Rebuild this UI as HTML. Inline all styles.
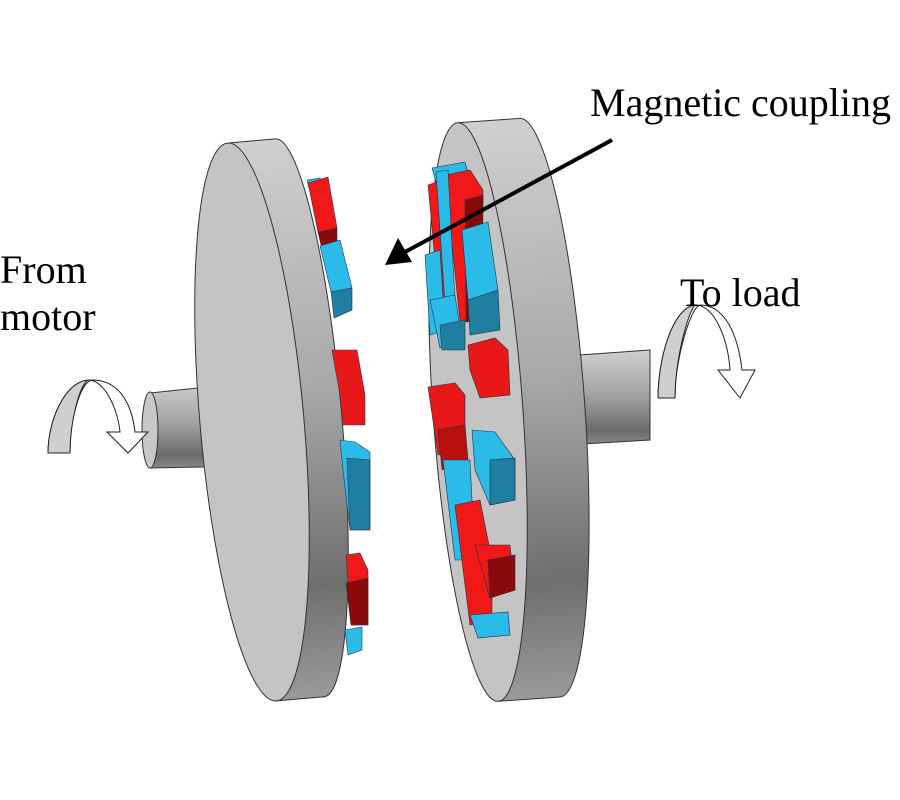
<!DOCTYPE html>
<html><head><meta charset="utf-8"><style>
html,body{margin:0;padding:0;background:#fff;}
svg{display:block;}
text{font-family:"Liberation Serif",serif;fill:#000;}
</style></head><body>
<svg width="900" height="800" viewBox="0 0 900 800" xmlns="http://www.w3.org/2000/svg">
<defs>
<linearGradient id="rim" x1="0" y1="0" x2="0" y2="1">
<stop offset="0" stop-color="#d0d0d0"/><stop offset="0.45" stop-color="#a8a8a8"/><stop offset="0.8" stop-color="#6e6e6e"/><stop offset="1" stop-color="#9a9a9a"/>
</linearGradient>
<linearGradient id="shaft" x1="0" y1="0" x2="0" y2="1">
<stop offset="0" stop-color="#d0d0d0"/><stop offset="0.5" stop-color="#a0a0a0"/><stop offset="0.85" stop-color="#6a6a6a"/><stop offset="1" stop-color="#8a8a8a"/>
</linearGradient>
</defs>
<g stroke="#333" stroke-width="1">
<!-- left shaft -->
<path d="M150,393 L255,382 L255,466 L150,468 Z" fill="url(#shaft)"/>
<ellipse cx="150" cy="430" rx="8" ry="38" fill="#c8c8c8"/>
<!-- left disk -->
<g transform="rotate(-5 252 422)">
<ellipse cx="300" cy="422" rx="42" ry="280" fill="url(#rim)"/>
<rect x="252" y="142" width="48" height="560" fill="url(#rim)" stroke="none"/>
<line x1="252" y1="142" x2="300" y2="142"/>
<line x1="252" y1="702" x2="300" y2="702"/>
<ellipse cx="252" cy="422" rx="52" ry="280" fill="#c4c4c4"/>
</g>
<!-- right shaft -->
<path d="M565,356 L650,350 L650,440 L565,445 Z" fill="url(#shaft)"/>
<!-- right disk -->
<g transform="rotate(-4 478 412)">
<ellipse cx="540" cy="412" rx="45" ry="290" fill="url(#rim)"/>
<rect x="478" y="122" width="62" height="580" fill="url(#rim)" stroke="none"/>
<line x1="478" y1="122" x2="540" y2="122"/>
<line x1="478" y1="702" x2="540" y2="702"/>
<ellipse cx="478" cy="412" rx="45" ry="290" fill="#c4c4c4"/>
</g>
</g>
<!-- left magnets -->
<g stroke="#335" stroke-width="0.6">
<path d="M307,180 L320,178 L323,186 L309,188Z" fill="#2bbbe8"/>
<path d="M308,183 L328,177 L337,228 L318,232Z" fill="#f01818"/>
<path d="M318,232 L337,228 L337,243 L321,245Z" fill="#8a0a0a"/>
<path d="M320,246 L340,240 L352,288 L331,292Z" fill="#2bbbe8"/>
<path d="M331,292 L352,288 L352,310 L334,318 Z" fill="#1e7fa0"/>
<path d="M332,350 L357,350 L365,395 L365,425 L343,425 L340,395Z" fill="#e81818"/>
<path d="M340,440 L355,442 L370,452 L370,530 L350,530 L343,470Z" fill="#2bbbe8"/>
<path d="M347,458 L370,460 L370,530 L350,530Z" fill="#1e7fa0"/>
<path d="M346,555 L360,553 L368,570 L368,625 L351,625Z" fill="#f01818"/>
<path d="M346,583 L368,578 L368,625 L351,625Z" fill="#8a0a0a"/>
<path d="M345,630 L362,627 L362,650 L348,655Z" fill="#2bbbe8"/>
</g>
<!-- right magnets -->
<g stroke="#234" stroke-width="0.6">
<path d="M432,168 L465,162 L470,180 L437,186Z" fill="#2bbbe8"/>
<path d="M445,175 L470,170 L483,190 L482,320 L460,322Z" fill="#f01818"/>
<path d="M465,200 L483,195 L482,320 L466,322Z" fill="#8a0a0a"/>
<path d="M428,185 L442,180 L455,310 L440,312Z" fill="#f01818"/>
<path d="M436,172 L448,170 L455,300 L445,304Z" fill="#2bbbe8"/>
<path d="M462,230 L488,222 L498,290 L468,300Z" fill="#2bbbe8"/>
<path d="M468,300 L498,290 L500,330 L470,335Z" fill="#1e7fa0"/>
<path d="M425,255 L440,250 L445,330 L430,335Z" fill="#2bbbe8"/>
<path d="M430,300 L455,295 L462,340 L440,348Z" fill="#2bbbe8"/>
<path d="M440,325 L465,320 L465,350 L442,350Z" fill="#1e7fa0"/>
<path d="M468,345 L495,338 L508,350 L510,395 L480,398 L470,370Z" fill="#e81818"/>
<path d="M428,387 L455,383 L465,395 L465,450 L438,455Z" fill="#e81818"/>
<path d="M438,430 L465,425 L468,460 L442,470Z" fill="#b81010"/>
<path d="M472,430 L495,432 L515,460 L515,500 L490,505 L475,470Z" fill="#2bbbe8"/>
<path d="M490,460 L515,458 L515,500 L490,505Z" fill="#1e7fa0"/>
<path d="M443,460 L470,460 L475,560 L455,560Z" fill="#2bbbe8"/>
<path d="M455,505 L480,500 L492,560 L492,620 L470,625Z" fill="#f01818"/>
<path d="M475,545 L510,545 L515,590 L490,598Z" fill="#f01818"/>
<path d="M488,560 L515,555 L515,590 L490,598Z" fill="#8a0a0a"/>
<path d="M470,615 L508,612 L510,635 L478,638Z" fill="#2bbbe8"/>
</g>
<!-- pointer arrow -->
<line x1="612" y1="140" x2="405" y2="252" stroke="#000" stroke-width="4"/>
<path d="M385,265 L398,238 L412,262Z" fill="#000"/>
<!-- curved arrows -->
<g stroke="#222" stroke-width="1">
<path d="M48,453 C48,420 65,382 88,380 C105,380 118,410 120,432 L107,432 L128,453 L148,432 L135,432 C132,405 120,380 92,380 C80,382 70,420 70,453 Z" fill="#fff"/>
<path d="M48,453 C48,420 65,382 88,380 C80,385 70,420 70,453 Z" fill="#cfcfcf"/>
<path d="M658,398 C658,360 672,308 695,305 C715,305 728,340 730,370 L718,370 L740,398 L755,370 L742,370 C738,335 725,305 700,305 C690,308 675,360 675,398 Z" fill="#fff"/>
<path d="M658,398 C658,360 672,308 695,305 C688,312 675,360 675,398 Z" fill="#cfcfcf"/>
</g>
<text x="590" y="116" font-size="40">Magnetic coupling</text>
<text x="0" y="283" font-size="40">From</text>
<text x="0" y="330" font-size="40">motor</text>
<text x="680" y="306" font-size="40">To load</text>
</svg>
</body></html>
